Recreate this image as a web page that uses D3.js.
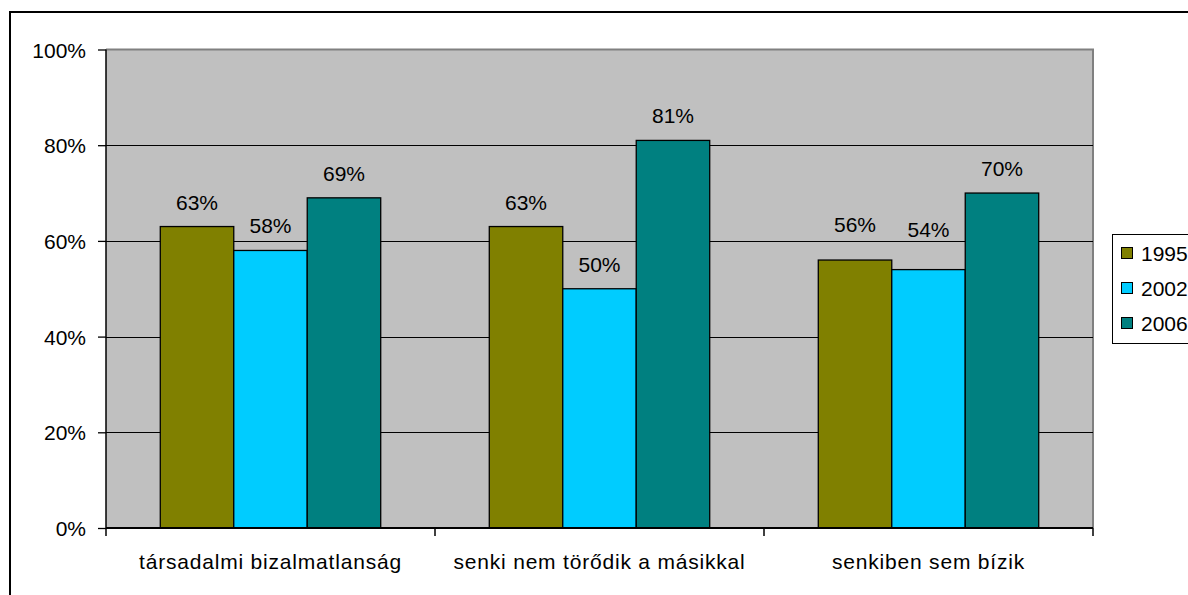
<!DOCTYPE html>
<html><head><meta charset="utf-8">
<script src="https://cdn.jsdelivr.net/npm/d3@7"></script>
<style>body{margin:0;background:#fff}svg{display:block;font-family:"Liberation Sans",Arial,sans-serif}</style>
</head><body>
<svg id="c" width="1188" height="595"></svg>
<script>
const categories = ["társadalmi bizalmatlanság", "senki nem törődik a másikkal", "senkiben sem bízik"];
const seriesNames = ["1995", "2002", "2006"];
const v1995 = [63, 63, 56];
const v2002 = [58, 50, 54];
const v2006 = [69, 81, 70];
const yTicks = [0, 20, 40, 60, 80, 100];
const colors = ["#808000", "#00CCFF", "#008080"];
const seriesValues = [v1995, v2002, v2006];
// extra upward shift of a few labels (manually moved in the original)
const labelShift = [[0, 0, 11], [0, 0, 16], [0, 0, 0]];

const svg = d3.select("#c");
const FS = 21;
// outer frame
svg.append("rect").attr("x", 10).attr("y", 12).attr("width", 1300).attr("height", 700)
  .attr("fill", "#fff").attr("stroke", "#000").attr("stroke-width", 2);

const L = 106, R = 1093, T = 49.5, B = 528;
const x = d3.scaleBand().domain(categories).range([L, R]).padding(0);
const y = d3.scaleLinear().domain([0, 100]).range([B, T]);
const inner = d3.scaleBand().domain(seriesNames)
  .range([x.bandwidth() * 0.165, x.bandwidth() * 0.835]).padding(0);

// plot area
svg.append("rect").attr("x", L).attr("y", T).attr("width", R - L).attr("height", B - T)
  .attr("fill", "#C0C0C0");
svg.append("path").attr("d", `M${L},${T}H${R}V${B}`).attr("fill", "none")
  .attr("stroke", "#808080").attr("stroke-width", 2);

// gridlines
svg.append("g").selectAll("line").data(yTicks.filter(t => t > 0 && t < 100)).join("line")
  .attr("x1", L).attr("x2", R).attr("y1", d => Math.round(y(d)) + 0.5).attr("y2", d => Math.round(y(d)) + 0.5)
  .attr("stroke", "#000").attr("stroke-width", 1);

// bars
categories.forEach((c, ci) => {
  seriesNames.forEach((s, si) => {
    const val = seriesValues[si][ci];
    const bx = x(c) + inner(s);
    svg.append("rect").attr("x", bx).attr("y", y(val)).attr("width", inner.bandwidth())
      .attr("height", y(0) - y(val)).attr("fill", colors[si]).attr("stroke", "#000").attr("stroke-width", 1.3);
    svg.append("text").attr("x", bx + inner.bandwidth() / 2).attr("y", y(val) - 17 - labelShift[si][ci])
      .attr("text-anchor", "middle").attr("font-size", FS).attr("fill", "#000").text(val + "%");
  });
});

// y axis
const yAxis = d3.axisLeft(y).tickValues(yTicks).tickFormat(d => d + "%").tickSize(8).tickPadding(12);
const ya = svg.append("g").attr("transform", `translate(${L},0)`).call(yAxis);
ya.select(".domain").attr("stroke", "#000").attr("stroke-width", 1.5).attr("d", `M0,${T}V${B}`);
ya.selectAll(".tick line").attr("stroke", "#000").attr("stroke-width", 1.3);
ya.selectAll(".tick text").attr("font-size", FS).attr("font-family", "Liberation Sans, Arial, sans-serif")
  .attr("fill", "#000").attr("dy", "0.36em");

// x axis
const xAxis = d3.axisBottom(x).tickSize(0).tickPadding(0);
const xa = svg.append("g").attr("transform", `translate(0,${B})`).call(xAxis);
xa.select(".domain").attr("stroke", "#000").attr("stroke-width", 2).attr("d", `M${L},0H${R}`);
xa.selectAll(".tick text").attr("font-size", FS).attr("font-family", "Liberation Sans, Arial, sans-serif")
  .attr("fill", "#000").attr("y", 41).attr("dy", 0).attr("letter-spacing", "0.8px");
const bounds = [L, ...categories.map(c => x(c) + x.bandwidth())];
xa.selectAll(".bt").data(bounds).join("line").attr("class", "bt")
  .attr("x1", d => d).attr("x2", d => d).attr("y1", 0).attr("y2", 8).attr("stroke", "#000").attr("stroke-width", 1.5);

// legend
const lg = svg.append("g");
lg.append("rect").attr("x", 1112.5).attr("y", 234.5).attr("width", 200).attr("height", 109)
  .attr("fill", "#fff").attr("stroke", "#000").attr("stroke-width", 1);
seriesNames.forEach((s, i) => {
  const cy = 253 + i * 35;
  lg.append("rect").attr("x", 1121.5).attr("y", cy - 5.5).attr("width", 11).attr("height", 11)
    .attr("fill", colors[i]).attr("stroke", "#000").attr("stroke-width", 1);
  lg.append("text").attr("x", 1141).attr("y", cy + 7.5).attr("font-size", FS).attr("fill", "#000").text(s);
});
</script>
</body></html>
